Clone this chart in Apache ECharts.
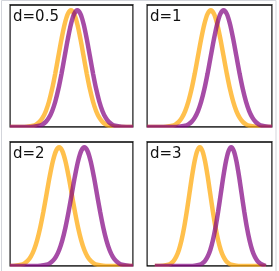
<!DOCTYPE html>
<html>
<head>
<meta charset="utf-8">
<script src="https://cdn.jsdelivr.net/npm/echarts@6/dist/echarts.min.js"></script>
<style>
  html, body { margin: 0; padding: 0; background: #fff; }
  #main { width: 279px; height: 271px; }
</style>
</head>
<body>
<div id="main"></div>
<script>
var myChart = echarts.init(document.getElementById('main'));

// panel labels and shift between the two curves
var labels = ['d=0.5', 'd=1', 'd=2', 'd=3'];
var dValues = [0.5, 1, 2, 3];
// x window of each panel (orange mean at 0)
var xMins = [-4.84, -4.98, -3.9, -5.05];
var xMaxs = [4.92, 4.78, 5.86, 6.9];
// where the drawn lines begin / end
var lineStarts = [-7, -7, -6, -4.3];
var lineEnds = [7.5, 8, 8, 6.3];

// bell shape: offset from the peak -> relative height
var offsets = [-6, -5, -4, -3.5, -3, -2.75, -2.5, -2.25, -2, -1.75, -1.5, -1.25, -1, -0.75, -0.5, -0.25,
    0, 0.25, 0.5, 0.75, 1, 1.25, 1.5, 1.75, 2, 2.25, 2.5, 2.75, 3, 3.5, 4, 5, 6];
var heights = [0, 0, 0.0003, 0.0022, 0.0111, 0.0228, 0.0439, 0.0796, 0.1353, 0.2163, 0.3247, 0.4578, 0.6065, 0.7548, 0.8825, 0.9692,
    1, 0.9692, 0.8825, 0.7548, 0.6065, 0.4578, 0.3247, 0.2163, 0.1353, 0.0796, 0.0439, 0.0228, 0.0111, 0.0022, 0.0003, 0, 0];

var colors = ['rgba(255,165,0,0.7)', 'rgba(128,0,128,0.7)'];

// panel boxes in pixels
var boxes = [
    {left: 10, top: 5, width: 123, height: 122},
    {left: 147, top: 5, width: 125, height: 122},
    {left: 10, top: 142, width: 123, height: 124},
    {left: 147, top: 142, width: 125, height: 124}
];

function curve(mean, lo, hi) {
    var pts = [[lo, 0]];
    for (var k = 0; k < offsets.length; k++) {
        var x = mean + offsets[k];
        if (x > lo && x < hi) pts.push([x, heights[k]]);
    }
    pts.push([hi, 0]);
    return pts;
}

var grids = [], xAxes = [], yAxes = [], series = [], graphics = [];

for (var i = 0; i < 4; i++) {
    var b = boxes[i];
    // keep the lines inside the frame
    var lo = Math.max(lineStarts[i], xMins[i]);
    var hi = Math.min(lineEnds[i], xMaxs[i]);
    grids.push({
        left: b.left, top: b.top, width: b.width, height: b.height,
        show: true, borderColor: '#000', borderWidth: 1.3, backgroundColor: 'transparent'
    });
    xAxes.push({
        type: 'value', gridIndex: i, min: xMins[i], max: xMaxs[i], show: false
    });
    yAxes.push({
        type: 'value', gridIndex: i, min: 0, max: 1.045, show: false
    });
    [0, dValues[i]].forEach(function (mean, s) {
        series.push({
            type: 'line',
            xAxisIndex: i,
            yAxisIndex: i,
            data: curve(mean, lo, hi),
            smooth: 0.3,
            showSymbol: false,
            silent: true,
            animation: false,
            lineStyle: {color: colors[s], width: 4.5}
        });
    });
    // white strips just outside the frame hide the part of the thick line that spills over
    var bottom = b.top + b.height, right = b.left + b.width;
    graphics.push({
        type: 'rect', z: 100, silent: true,
        shape: {x: b.left - 3, y: bottom + 0.7, width: b.width + 6, height: 3},
        style: {fill: '#fff'}
    });
    graphics.push({
        type: 'rect', z: 100, silent: true,
        shape: {x: right + 0.7, y: b.top, width: 2.5, height: b.height + 3},
        style: {fill: '#fff'}
    });
    graphics.push({
        type: 'rect', z: 100, silent: true,
        shape: {x: b.left - 3.2, y: b.top, width: 2.5, height: b.height + 3},
        style: {fill: '#fff'}
    });
    graphics.push({
        type: 'text',
        left: b.left + 3,
        top: b.top + 5,
        style: {
            text: labels[i],
            font: '15px "DejaVu Sans"',
            fill: '#111'
        }
    });
}

// light outer border of the figure
graphics.push({
    type: 'rect', z: 110, silent: true,
    shape: {x: 1.5, y: 0.5, width: 274.5, height: 290},
    style: {fill: 'none', stroke: '#d3d5db', lineWidth: 1}
});

var option = {
    animation: false,
    grid: grids,
    xAxis: xAxes,
    yAxis: yAxes,
    series: series,
    graphic: graphics
};
myChart.setOption(option);
</script>
</body>
</html>
